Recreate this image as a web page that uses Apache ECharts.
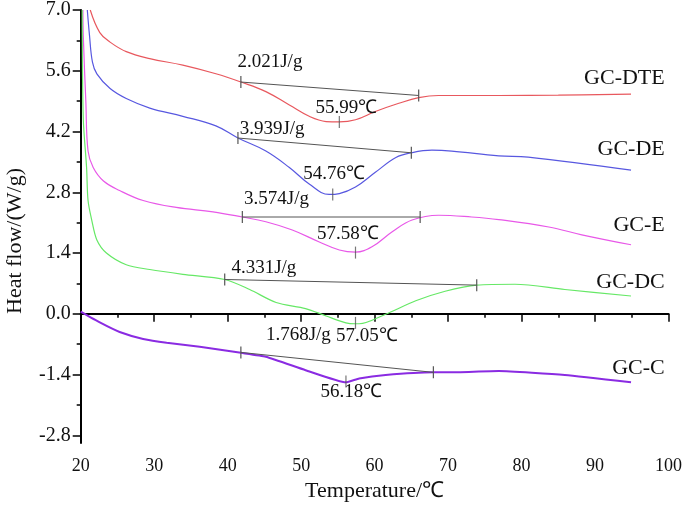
<!DOCTYPE html>
<html><head><meta charset="utf-8">
<script src="https://cdn.jsdelivr.net/npm/echarts@6/dist/echarts.min.js"></script>
<style>html,body{margin:0;padding:0;background:#fff}#c{width:685px;height:507px}</style>
</head><body><div id="c"></div>
<script>
// ---- data ----
const seriesNames = ['GC-DTE', 'GC-DE', 'GC-E', 'GC-DC', 'GC-C'];

const dte = [[21.3,7.0],[22.6,6.48],[24.0,6.26],[26.2,6.04],[29.4,5.88],[33.9,5.73],[38.4,5.53],[41.8,5.34],[45.2,5.12],[48.4,4.81],[51.1,4.55],[53.4,4.43],[55.2,4.42],[57.4,4.47],[60.1,4.66],[63.3,4.85],[66.0,4.98],[68.7,5.03],[76.9,5.03],[85.0,5.04],[94.9,5.06]];
const de = [[20.9,7.0],[21.2,6.41],[21.6,5.80],[22.2,5.53],[24.0,5.19],[26.2,4.96],[29.4,4.74],[33.9,4.55],[38.4,4.33],[41.4,4.05],[45.2,3.75],[48.4,3.37],[51.1,2.99],[53.8,2.75],[55.2,2.77],[57.4,2.92],[60.1,3.26],[62.9,3.60],[65.0,3.71],[67.8,3.77],[70.5,3.75],[76.9,3.64],[80.9,3.61],[94.9,3.31]];
const e = [[20.3,7.0],[20.35,6.41],[20.7,4.89],[21.0,3.75],[21.7,3.37],[23.1,3.06],[25.3,2.84],[28.5,2.61],[33.0,2.45],[38.0,2.35],[42.0,2.23],[45.2,2.12],[48.8,1.93],[52.4,1.66],[55.2,1.47],[57.4,1.42],[59.7,1.55],[62.4,1.89],[65.1,2.16],[68.7,2.27],[73.2,2.23],[76.9,2.17],[83.7,2.00],[88.2,1.82],[94.9,1.59]];
const dc = [[20.2,7.0],[20.35,4.50],[20.8,3.37],[21.0,2.61],[21.5,2.16],[22.2,1.70],[23.5,1.40],[26.2,1.13],[29.4,1.02],[33.9,0.91],[39.6,0.79],[43.0,0.56],[46.6,0.26],[50.6,0.12],[53.4,-0.05],[56.1,-0.21],[57.4,-0.23],[57.9,-0.23],[61.5,-0.01],[65.6,0.30],[69.6,0.52],[73.9,0.66],[79.1,0.68],[85.9,0.56],[94.9,0.41]];
const c = [[20.0,0.05],[22.6,-0.20],[25.3,-0.42],[28.5,-0.58],[31.7,-0.67],[36.2,-0.76],[41.8,-0.90],[45.2,-0.99],[50.6,-1.30],[56.1,-1.58],[57.9,-1.49],[61.5,-1.41],[68.0,-1.35],[70.1,-1.35],[76.9,-1.32],[85.9,-1.41],[94.9,-1.58]];

// integration baselines (start / end) and peak points
const dteBase = [[41.8,5.34],[66.0,5.03]];
const deBase  = [[41.4,4.05],[65.0,3.71]];
const eBase   = [[42.0,2.23],[66.2,2.23]];
const dcBase  = [[39.6,0.79],[73.9,0.66]];
const cBase   = [[41.8,-0.89],[68.0,-1.35]];
const dtePeak = [55.2,4.42];
const dePeak  = [54.3,2.75];
const ePeak   = [57.4,1.41];
const dcPeak  = [57.4,-0.21];
const cPeak   = [56.1,-1.56];

const enthalpyLabels = ['2.021J/g', '3.939J/g', '3.574J/g', '4.331J/g', '1.768J/g'];
const peakLabels = ['55.99℃', '54.76℃', '57.58℃', '57.05℃', '56.18℃'];

const yTickValues = [-2.8, -1.4, 0.0, 1.4, 2.8, 4.2, 5.6, 7.0];
const yMinorTickValues = [-2.1, -0.7, 0.7, 2.1, 3.5, 4.9, 6.3];

// ---- styles / layout ----
const curves = [dte, de, e, dc, c];
const bases = [dteBase, deBase, eBase, dcBase, cBase];
const peaks = [dtePeak, dePeak, ePeak, dcPeak, cPeak];
const colors = ['#e8585e', '#5858e0', '#e858e8', '#66e866', '#8a2be2'];
const widths = [1.2, 1.2, 1.2, 1.2, 2];
const smooths = [0.4, 0.4, 0.4, 0.3, 0.15];
const serif = '"Liberation Serif","Times New Roman",serif';
const gray = '#555';

const chart = echarts.init(document.getElementById('c'), null, {renderer: 'canvas'});

const series = [];
curves.forEach((d, i) => {
  series.push({
    name: seriesNames[i], type: 'line', data: d, showSymbol: false,
    smooth: smooths[i], clip: true, z: 2,
    lineStyle: {color: colors[i], width: widths[i]}, itemStyle: {color: colors[i]},
    silent: true
  });
});
bases.forEach((b) => {
  series.push({
    type: 'line', data: b, symbol: 'rect', symbolSize: [1.2, 12], showSymbol: true,
    lineStyle: {color: gray, width: 1}, itemStyle: {color: gray, borderWidth: 0}, z: 3, silent: true
  });
});
series.push({
  type: 'scatter', data: peaks, symbol: 'rect', symbolSize: [1.2, 12],
  itemStyle: {color: gray, borderWidth: 0}, z: 3, silent: true
});

chart.setOption({
  animation: false,
  backgroundColor: '#fff',
  grid: {left: 80.7, right: 14.3, top: 7.3, bottom: 61.3, containLabel: false},
  xAxis: {
    type: 'value', min: 20, max: 100, interval: 10,
    name: 'Temperature/℃', nameLocation: 'middle', nameGap: 35,
    nameTextStyle: {fontFamily: serif, fontSize: 22, color: '#111'},
    axisLine: {lineStyle: {color: '#000', width: 2}},
    axisTick: {length: 8, lineStyle: {color: '#000', width: 1.5}},
    minorTick: {show: true, splitNumber: 2, length: 4, lineStyle: {color: '#000', width: 1.5}},
    axisLabel: {fontFamily: serif, fontSize: 18, color: '#111', margin: 14},
    splitLine: {show: false}
  },
  yAxis: [{
    type: 'value', min: -2.98, max: 7.0, position: 'left',
    axisLine: {show: true, lineStyle: {color: '#000', width: 2}},
    axisTick: {show: true, length: 8, customValues: yTickValues, lineStyle: {color: '#000', width: 1.5}},
    axisLabel: {fontFamily: serif, fontSize: 20, color: '#111', margin: 10,
      customValues: yTickValues, formatter: v => v.toFixed(1)},
    splitLine: {show: false}
  }, {
    type: 'value', min: -2.98, max: 7.0, position: 'left',
    axisLine: {show: false},
    axisTick: {show: true, length: 4, customValues: yMinorTickValues, lineStyle: {color: '#000', width: 1.5}},
    axisLabel: {show: false},
    splitLine: {show: false}
  }],
  series: series
});

// ---- text annotations anchored to data points ----
const px = (pt) => chart.convertToPixel({seriesIndex: 0}, pt);
const enthalpyOffsets = [[-3.4,-20], [1.7,-9.4], [1.7,-18.4], [6.7,-11.7], [25,-17.3]];
const peakOffsets = [[7,-14], [1.4,-20.7], [-7.7,-18.3], [11.3,13.4], [5.5,11]];
const nameOffsets = [[33.7,-16], [33.7,-21], [33.7,-20], [33.7,-13.4], [33.7,-14]];

const graphics = [];
function addText(text, p, off, align, size) {
  graphics.push({
    type: 'text', x: p[0] + off[0], y: p[1] + off[1], silent: true, z: 10,
    style: {text: text, fill: '#111', font: size + 'px ' + serif, align: align, verticalAlign: 'middle'}
  });
}
for (let i = 0; i < 5; i++) {
  addText(enthalpyLabels[i], px(bases[i][0]), enthalpyOffsets[i], 'left', 19);
  addText(peakLabels[i], px(peaks[i]), peakOffsets[i], 'center', 19);
  addText(seriesNames[i], px(curves[i][curves[i].length - 1]), nameOffsets[i], 'right', 22);
}
graphics.push({
  type: 'text', x: 15, y: 241, rotation: Math.PI / 2, silent: true,
  style: {text: 'Heat flow/(W/g)', fill: '#111', font: '22px ' + serif, align: 'center', verticalAlign: 'middle'}
});
chart.setOption({graphic: graphics});
</script>
</body></html>
